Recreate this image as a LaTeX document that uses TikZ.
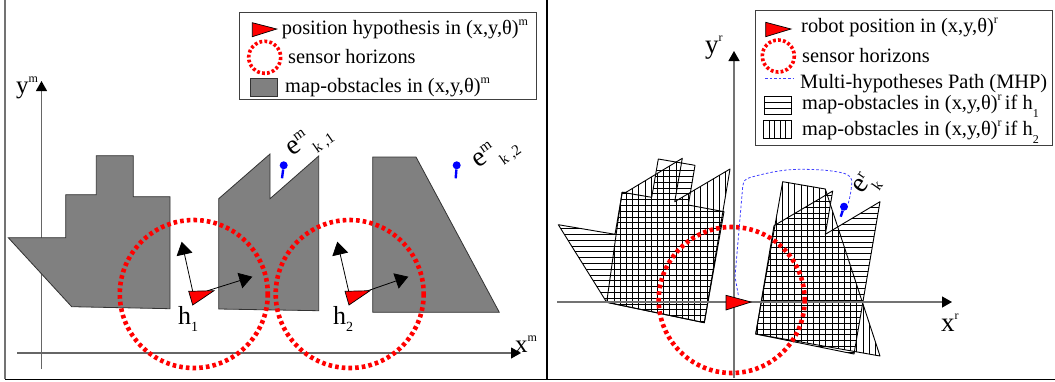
\documentclass[tikz,border=0pt]{standalone}
\usepackage{fontspec}
\setmainfont{Liberation Serif}
\usetikzlibrary{arrows.meta}
\newcommand{\fs}[1]{\fontsize{#1}{#1}\selectfont}
\newcommand{\supt}[1]{\raisebox{0.42em}{\fs{12}#1}}
\newcommand{\ekm}[4]{e\rlap{\raisebox{#3pt}{\fs{15}#1}}\hspace{#4pt}\raisebox{-12pt}{\fs{15}#2}}
\tikzset{
  frameline/.style={line width=1.4pt},
  legendbox/.style={draw=black!75,line width=1pt,fill=white},
  legendtext/.style={anchor=base west,inner sep=0pt,font=\fs{20.4}},
  axislabel/.style={anchor=base west,inner sep=0pt,font=\fs{25}},
  tiltlabel/.style={anchor=base west,inner sep=0pt,font=\fs{28}},
  mapaxis/.style={draw=black!60,line width=1.1pt,-{Triangle[length=10pt,width=11pt,color=black,fill=black]}},
  robotaxis/.style={draw=black!55,line width=1.3pt,-{Triangle[length=10pt,width=11pt,color=black,fill=black]}},
  frameaxis/.style={draw=black,line width=0.8pt,-{Triangle[length=13pt,width=16pt]}},
  obstacle/.style={fill=black!50,draw=black!80,line width=0.8pt},
  outline/.style={draw=black,line width=0.9pt,line join=round},
  hatchline/.style={draw=black,line width=0.85pt},
  horizon/.style={draw=red,line width=4.6pt,dash pattern=on 3.6pt off 3.1pt},
  minihorizon/.style={draw=red,line width=3.6pt,dash pattern=on 2.8pt off 2.2pt},
  robottri/.style={fill=red,draw=black,line width=0.7pt},
  pinhead/.style={circle,fill=blue,inner sep=0pt,minimum size=8pt},
  pintail/.style={draw=blue,line width=2.4pt},
  mhp/.style={draw=blue!75!white,line width=0.8pt,dash pattern=on 2.6pt off 2pt},
}
\begin{document}
\begin{tikzpicture}[x=1pt,y=-1pt]
\useasboundingbox (0,0) rectangle (1055,381);
\fill[white] (0,0) rectangle (1055,381);
% frames
\draw[draw=black!55,line width=1.5pt] (5,0) -- (5,379);
\draw[frameline] (5,379.3) -- (1055,379.3);
\draw[frameline] (547,0) -- (547,380);

% ---------- left panel ----------
\coordinate (my0) at (41.5,369);
\coordinate (my1) at (41.5,81);
\coordinate (mx0) at (17,353);
\coordinate (mx1) at (521,353);
\draw[mapaxis] (my0) -- (my1);
\draw[mapaxis] (mx0) -- (mx1);
\node[axislabel] (ymlab) at (16,93) {y\supt{m}};
\node[axislabel] (xmlab) at (515,352) {x\supt{m}};

\draw[obstacle] (8.3,237.7) -- (65.7,237.7) -- (65.7,194.7) -- (96.3,194.7) -- (96.3,155.7) -- (133.3,155.7) -- (133.3,196.7) -- (170,196.7) -- (170,308.7) -- (71.7,306.7) -- cycle;
\draw[obstacle] (218.7,198.7) -- (270,154) -- (270,198.7) -- (318.7,156) -- (318.7,310.7) -- (218.7,309) -- cycle;
\draw[obstacle] (372.7,157) -- (416,157) -- (499.3,312.3) -- (372.7,312.3) -- cycle;

\draw[horizon] (193.8,294) circle (74);
\draw[horizon] (349.7,294) circle (74);

\coordinate (h1o) at (192.7,291.3);
\coordinate (h1y) at (181.7,241.7);
\coordinate (h1s) at (206.7,291);
\coordinate (h1x) at (252.3,276.7);
\draw[frameaxis] (h1o) -- (h1y);
\draw[frameaxis] (h1s) -- (h1x);
\draw[robottri] (188.7,291.3) -- (214,290.7) -- (192.7,305) -- cycle;
\coordinate (h2o) at (348.7,291.3);
\coordinate (h2y) at (337.3,241.7);
\coordinate (h2s) at (363.3,292.3);
\coordinate (h2x) at (408.3,276.7);
\draw[frameaxis] (h2o) -- (h2y);
\draw[frameaxis] (h2s) -- (h2x);
\draw[robottri] (345,291.3) -- (370,290.7) -- (349,305) -- cycle;

\node[axislabel,font=\fs{26}] (h1lab) at (178,324) {h\raisebox{-0.3em}{\fs{14}1}};
\node[axislabel,font=\fs{26}] (h2lab) at (333,324) {h\raisebox{-0.3em}{\fs{14}2}};

\node[pinhead] (p1) at (283.7,165.3) {};
\coordinate (p1t) at (282,178.3);
\draw[pintail] (p1) -- (p1t);
\node[pinhead] (p2) at (456.7,165.3) {};
\coordinate (p2t) at (455.7,178.3);
\draw[pintail] (p2) -- (p2t);
\node[tiltlabel,rotate=35] (e1) at (291.9,156.5) {\ekm{m}{k ,1}{10}{10}};
\node[tiltlabel,rotate=35] (e2) at (478.4,168.5) {\ekm{m}{k ,2}{10}{10}};

% left legend
\draw[legendbox] (239.7,12.7) rectangle (536,99.7);
\draw[robottri] (252.3,22.7) -- (276.7,29) -- (252.3,36.7) -- cycle;
\node[legendtext] (l1) at (281.7,34) {position hypothesis in (x,y,θ)\supt{m}};
\draw[minihorizon] (264.7,57.3) circle (16);
\node[legendtext] (l2) at (288,63.3) {sensor horizons};
\draw[obstacle] (250.7,78) rectangle (277.7,96.7);
\node[legendtext] (l3) at (285,92) {map-obstacles in (x,y,θ)\supt{m}};

% ---------- right panel ----------
% horizontal-hatched (h1)
\begin{scope}
\clip (558.3,224.7) -- (615,234.3) -- (622.3,192.3) -- (651.7,197.3) -- (658.3,159) -- (695,165.3) -- (688.3,205) -- (724,211.7) -- (704.3,322.7) -- (606.7,302.3) -- cycle;
\foreach \k in {0,...,27} \draw[hatchline] (550,170.7+5.8*\k) -- (730,170.7+5.8*\k);
\end{scope}
\draw[outline] (558.3,224.7) -- (615,234.3) -- (622.3,192.3) -- (651.7,197.3) -- (658.3,159) -- (695,165.3) -- (688.3,205) -- (724,211.7) -- (704.3,322.7) -- (606.7,302.3) -- cycle;
% vertical-hatched (h2)
\begin{scope}
\clip (606.7,302.3) -- (622,192.3) -- (626,192.3) -- (682.3,158.3) -- (674.7,201.7) -- (730,169) -- (704.3,322.7) -- cycle;
\foreach \k in {-4,...,16} \draw[hatchline] (632.7+6.2*\k,150) -- (632.7+6.2*\k,330);
\end{scope}
\draw[outline] (606.7,302.3) -- (622,192.3) -- (626,192.3) -- (682.3,158.3) -- (674.7,201.7) -- (730,169) -- (704.3,322.7) -- cycle;
% second obstacle, h1
\begin{scope}
\clip (755.7,334) -- (774,225.7) -- (832.7,191) -- (825.3,234.3) -- (880,201.7) -- (854,354) -- cycle;
\foreach \k in {0,...,32} \draw[hatchline] (750,172.4+5.8*\k) -- (885,172.4+5.8*\k);
\end{scope}
\draw[outline] (755.7,334) -- (774,225.7) -- (832.7,191) -- (825.3,234.3) -- (880,201.7) -- (854,354) -- cycle;
% second obstacle, h2
\begin{scope}
\clip (782.7,181.7) -- (825.3,189) -- (880,356) -- (755.7,334) -- cycle;
\foreach \k in {-5,...,16} \draw[hatchline] (788.7+6.2*\k,175) -- (788.7+6.2*\k,360);
\end{scope}
\draw[outline] (782.7,181.7) -- (825.3,189) -- (880,356) -- (755.7,334) -- cycle;

\coordinate (ry0) at (734,378);
\coordinate (ry1) at (734,51);
\coordinate (rx0) at (557,302);
\coordinate (rx1) at (952,302);
\draw[robotaxis] (ry0) -- (ry1);
\draw[robotaxis] (rx0) -- (rx1);
\node[axislabel,font=\fs{27}] (yrlab) at (705,53) {y\supt{r}};
\node[axislabel,font=\fs{27}] (xrlab) at (941,331) {x\supt{r}};

\draw[horizon] (731.7,300) circle (73);

\node[pinhead] (p3) at (844,206.7) {};
\coordinate (p3t) at (840.7,216.7);
\draw[pintail] (p3) -- (p3t);
\coordinate (mhps) at (738.3,295);
\coordinate (mhpe) at (848.3,203.3);
\draw[mhp] (mhps) -- (735,276.7) -- (742.7,186.7) .. controls (743.5,181) and (745,179) .. (750,177.5) .. controls (770,172) and (785,169.3) .. (800,169.3) .. controls (815,169.3) and (830,170) .. (843,173) .. controls (850,175) and (852.5,178) .. (851.7,184) .. controls (851,192) and (850,197) .. (mhpe);
\draw[robottri] (726,295.3) -- (751,302) -- (726,310) -- cycle;

\node[tiltlabel,rotate=55] (e3) at (862.1,194.5) {\ekm{r}{k}{8}{0}};

% right legend
\draw[legendbox] (755.7,10) rectangle (1052.7,145.3);
\draw[robottri] (765.7,22.3) -- (791,29) -- (765.7,36.7) -- cycle;
\node[legendtext] (r1) at (801,32.5) {robot position in (x,y,θ)\supt{r}};
\draw[minihorizon] (778.3,56) circle (16);
\node[legendtext] (r2) at (802,62) {sensor horizons};
\coordinate (mhpa) at (765,78.7);
\coordinate (mhpb) at (792.7,78.7);
\draw[mhp] (mhpa) -- (mhpb);
\node[legendtext] (r3) at (800,88.5) {Multi-hypotheses Path (MHP)};
\draw[draw=black,line width=0.9pt] (764.3,96) rectangle (791,114.3);
\draw[hatchline] (764.3,102) -- (791,102);
\draw[hatchline] (764.3,108) -- (791,108);
\node[legendtext] (r4) at (802,109.5) {map-obstacles in (x,y,θ)\supt{r}\,if h\raisebox{-0.4em}{\fs{12}1}};
\draw[draw=black,line width=0.9pt] (763.7,120.7) rectangle (791,138.3);
\foreach \k in {1,2,3,4} \draw[hatchline] (763.7+5.46*\k,120.7) -- (763.7+5.46*\k,138.3);
\node[legendtext] (r5) at (802,135.5) {map-obstacles in (x,y,θ)\supt{r}\,if h\raisebox{-0.4em}{\fs{12}2}};
\end{tikzpicture}
\end{document}
